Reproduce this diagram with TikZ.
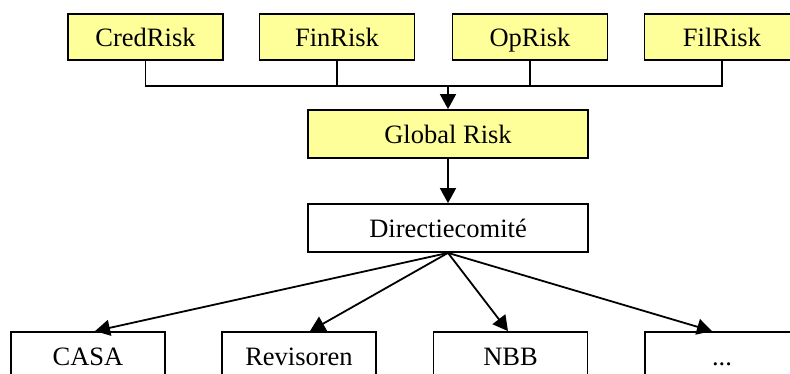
\documentclass[tikz,border=0pt]{standalone}
\usepackage{fontspec}
\setmainfont{Liberation Serif}
\usetikzlibrary{arrows.meta}
\definecolor{riskyellow}{RGB}{255,255,153}

\begin{document}
\begin{tikzpicture}[x=1pt,y=-1pt,
  box/.style={draw=black,line width=1.8pt,fill=white,minimum height=46pt,
    inner sep=0pt,text height=19pt,text depth=-3pt,
    font=\fontsize{26.5}{30}\selectfont},
  riskbox/.style={box,fill=riskyellow,minimum width=155pt},
  orgbox/.style={box,minimum width=154pt,minimum height=48pt},
  link/.style={draw=black,line width=1.5pt},
  arrow/.style={draw=black,line width=1.8pt,-{Triangle[length=15pt,width=16pt]}}]

\useasboundingbox (0,0) rectangle (790,374);
\clip (0,0) rectangle (790,374);

%risks
\node[riskbox] (cred) at (145.5,37) {CredRisk};
\node[riskbox] (fin) at (337,37) {FinRisk};
\node[riskbox] (op) at (530,37) {OpRisk};
\node[riskbox] (fil) at (722,37) {FilRisk};

\coordinate (bus) at (448,86);
\path[link] (cred.south) |- (bus);
\path[link] (fin.south) |- (bus);
\path[link] (op.south) |- (bus);
\path[link] (fil.south) |- (bus);

%global
\node[riskbox,minimum width=280pt,minimum height=48pt] (global) at (448,134) {Global Risk};
\path[arrow] (bus) -- (global.north);

%directie
\node[box,minimum width=280pt,minimum height=48pt] (dir) at (448,228) {Directiecomit\'e};
\path[arrow] (global.south) -- (dir.north);

%bottom
\node[orgbox] (casa) at (88,356) {CASA};
\node[orgbox] (rev) at (299,356) {Revisoren};
\node[orgbox] (nbb) at (510.5,356) {NBB};
\node[orgbox] (more) at (722,356) {...};

\path[arrow] (dir.south) -- ([xshift=7pt]casa.north);
\path[arrow] (dir.south) -- ([xshift=11pt]rev.north);
\path[arrow] (dir.south) -- ([xshift=-2.5pt]nbb.north);
\path[arrow] (dir.south) -- ([xshift=-10pt]more.north);

\end{tikzpicture}
\end{document}
